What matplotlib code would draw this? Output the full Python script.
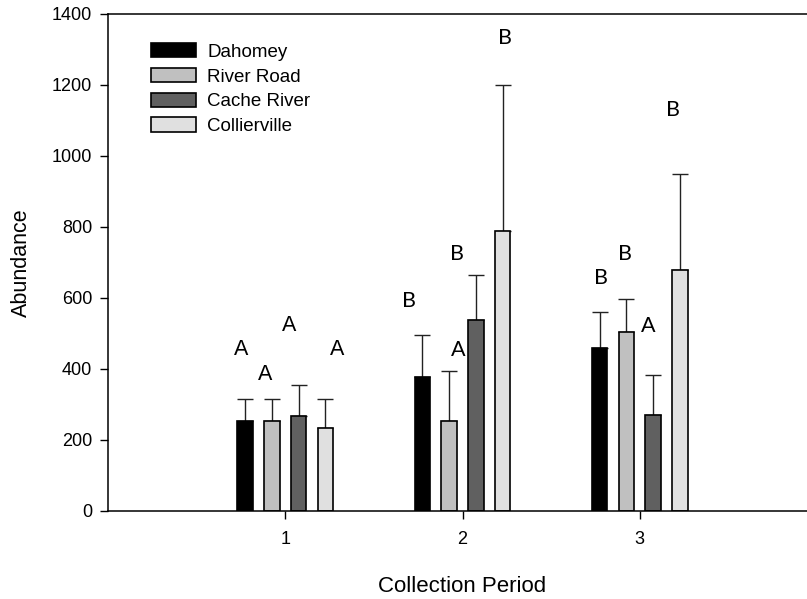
import numpy as np
import matplotlib.pyplot as plt

# Abundance by site for each collection period (mean and upper error)
periods = [1, 2, 3]
sites = ['Dahomey', 'River Road', 'Cache River', 'Collierville']
colors = ['#000000', '#c0c0c0', '#606060', '#e0e0e0']

dahomey = [253, 376, 458]
river_road = [252, 253, 504]
cache_river = [267, 538, 269]
collierville = [234, 787, 677]

dahomey_err = [61, 120, 103]
river_road_err = [62, 141, 93]
cache_river_err = [86, 127, 113]
collierville_err = [80, 413, 272]

# significance letters, one per bar (period-major order)
letters = ['A', 'A', 'A', 'A',
           'B', 'A', 'B', 'B',
           'B', 'B', 'A', 'B']
letter_x = [0.751, 0.887, 1.024, 1.291,
            1.698, 1.975, 1.969, 2.239,
            2.781, 2.917, 3.050, 3.190]
letter_y = [438, 368, 506, 438,
            573, 436, 706, 1315,
            639, 706, 504, 1113]

means = [dahomey, river_road, cache_river, collierville]
errs = [dahomey_err, river_road_err, cache_river_err, collierville_err]

plt.rcParams['font.family'] = ['Liberation Sans', 'DejaVu Sans']

fig = plt.figure(figsize=(8.07, 5.99), dpi=100)
ax = fig.add_axes([108 / 807, 1 - 510.5 / 599, 709 / 807, 496.5 / 599])

x = np.array(periods, dtype=float)
step = 0.151
width = 0.088
bars = []
for i, (m, e, c) in enumerate(zip(means, errs, colors)):
    pos = x + (i - 1.5) * step
    b = ax.bar(pos, m, width, color=c, edgecolor='black', linewidth=1.2,
               label=sites[i], zorder=2)
    ax.errorbar(pos, m, yerr=[np.zeros(len(e)), e], fmt='none',
                ecolor='#222222', elinewidth=1.0, capsize=6, capthick=1.0,
                zorder=1)
    bars.append(b)

for k, (txt, lx, ly) in enumerate(zip(letters, letter_x, letter_y)):
    fam = ['Liberation Sans'] if k < 4 else ['Lato', 'DejaVu Sans']
    ax.text(lx, ly, txt, ha='center', va='baseline', fontsize=15.5,
            family=fam, color='black')

ax.set_xlim(0, 4)
ax.set_ylim(0, 1400)
ax.set_xticks(periods)
ax.set_yticks(np.arange(0, 1401, 200))
ax.tick_params(axis='y', direction='out', length=5.5, width=1, labelsize=13, pad=6)
ax.tick_params(axis='x', direction='out', length=6, width=1, labelsize=13, pad=9)

for side in ['top', 'bottom', 'left']:
    ax.spines[side].set_linewidth(1.1)
ax.spines['right'].set_visible(False)

ax.set_xlabel('Collection Period', fontsize=16, labelpad=20)
ax.set_ylabel('Abundance', fontsize=15.5, labelpad=14)

fig.legend(handles=bars, labels=sites, loc='upper left',
           bbox_to_anchor=(151 / 807, 1 - 43 / 599), bbox_transform=fig.transFigure,
           frameon=False, fontsize=13.5, handlelength=2.4, handleheight=0.8,
           handletextpad=0.6, labelspacing=0.38, borderpad=0, borderaxespad=0)

fig.savefig('out.png', dpi=100)
